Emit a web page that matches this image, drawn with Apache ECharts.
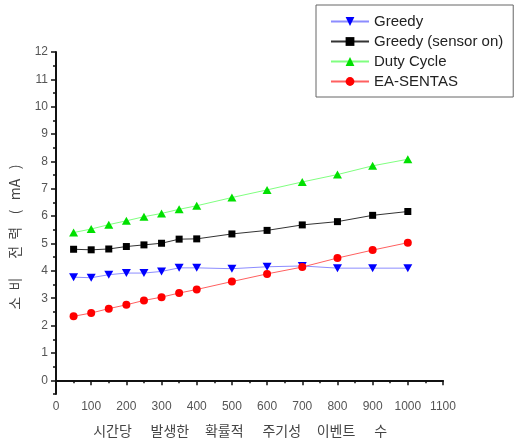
<!DOCTYPE html>
<html>
<head>
<meta charset="utf-8">
<script src="https://cdn.jsdelivr.net/npm/echarts@6/dist/echarts.min.js"></script>
<style>html,body{margin:0;padding:0;background:#fff}#c{width:516px;height:446px}</style>
</head>
<body>
<div id="c"></div>
<script>
var xValues = [50, 100, 150, 200, 250, 300, 350, 400, 500, 600, 700, 800, 900, 1000];
var greedy = [3.77, 3.75, 3.86, 3.92, 3.92, 3.98, 4.11, 4.11, 4.08, 4.15, 4.18, 4.1, 4.1, 4.1];
var greedySensorOn = [4.79, 4.77, 4.8, 4.89, 4.95, 5.01, 5.16, 5.17, 5.35, 5.48, 5.68, 5.8, 6.03, 6.17];
var dutyCycle = [5.4, 5.53, 5.69, 5.83, 5.98, 6.1, 6.25, 6.38, 6.68, 6.96, 7.25, 7.52, 7.84, 8.08];
var eaSentas = [2.34, 2.46, 2.62, 2.76, 2.92, 3.04, 3.19, 3.32, 3.61, 3.89, 4.14, 4.47, 4.76, 5.03];
var yMajorTicks = [0, 1, 2, 3, 4, 5, 6, 7, 8, 9, 10, 11, 12];
var yMinorTicks = [-0.5, 0.5, 1.5, 2.5, 3.5, 4.5, 5.5, 6.5, 7.5, 8.5, 9.5, 10.5, 11.5];
var seriesNames = ['Greedy', 'Greedy (sensor on)', 'Duty Cycle', 'EA-SENTAS'];

function pairs(v) { return xValues.map(function (x, i) { return [x, v[i]]; }); }

var chart = echarts.init(document.getElementById('c'));
var labelFont = 'Liberation Sans, Arial, sans-serif';
var koFont = 'Noto Sans CJK KR, sans-serif';
chart.setOption({
  animation: false,
  backgroundColor: '#fff',
  grid: { left: 55, right: 73, top: 52, bottom: 52 },
  legend: {
    orient: 'vertical', left: 316, top: 5,
    padding: [9, 10, 8, 14],
    itemWidth: 38, itemHeight: 11, itemGap: 5,
    borderColor: '#666', borderWidth: 1,
    textStyle: { fontFamily: labelFont, fontSize: 15, color: '#222' },
    data: seriesNames
  },
  xAxis: {
    type: 'value', min: 0, max: 1100, interval: 100,
    name: '시간당      발생한     확률적      주기성     이벤트      수      ', nameLocation: 'middle', nameGap: 30,
    nameTextStyle: { fontFamily: koFont, fontSize: 14, color: '#444' },
    axisLine: { show: true, lineStyle: { color: '#111', width: 2 } },
    axisTick: { show: true, length: 5, lineStyle: { color: '#111', width: 1.5 } },
    minorTick: { show: true, splitNumber: 2, length: 3, lineStyle: { color: '#111', width: 1.5 } },
    splitLine: { show: false },
    axisLabel: { fontFamily: labelFont, fontSize: 12, color: '#555', margin: 7, formatter: function (v) { return String(v); } }
  },
  yAxis: [{
    type: 'value', min: -0.5, max: 12,
    name: '소  비      전  력    (   mA   )         ', nameLocation: 'middle', nameGap: 34, nameRotate: 90,
    nameTextStyle: { fontFamily: koFont, fontSize: 14, color: '#444' },
    axisLine: { show: true, lineStyle: { color: '#111', width: 2 } },
    axisTick: { show: true, length: 5, customValues: yMajorTicks, lineStyle: { color: '#111', width: 1.5 } },
    splitLine: { show: false },
    axisLabel: { fontFamily: labelFont, fontSize: 12, color: '#555', margin: 8, customValues: yMajorTicks }
  }, {
    type: 'value', min: -0.5, max: 12, position: 'left',
    axisLine: { show: false },
    axisTick: { show: true, length: 3, customValues: yMinorTicks, lineStyle: { color: '#111', width: 1.5 } },
    splitLine: { show: false },
    axisLabel: { show: false }
  }],
  series: [{
    name: seriesNames[0], type: 'line', data: pairs(greedy),
    symbol: 'path://M0,0 L10,0 L5,9 Z', symbolSize: [9, 8],
    lineStyle: { color: '#8c8cff', width: 1 }, itemStyle: { color: '#0000ff' }
  }, {
    name: seriesNames[1], type: 'line', data: pairs(greedySensorOn),
    symbol: 'rect', symbolSize: 7,
    lineStyle: { color: '#333', width: 1 }, itemStyle: { color: '#000' }
  }, {
    name: seriesNames[2], type: 'line', data: pairs(dutyCycle),
    symbol: 'triangle', symbolSize: [9, 8],
    lineStyle: { color: '#80ff80', width: 1 }, itemStyle: { color: '#00e000' }
  }, {
    name: seriesNames[3], type: 'line', data: pairs(eaSentas),
    symbol: 'circle', symbolSize: 8,
    lineStyle: { color: '#ff6060', width: 1 }, itemStyle: { color: '#ff0000' }
  }]
});
</script>
</body>
</html>
